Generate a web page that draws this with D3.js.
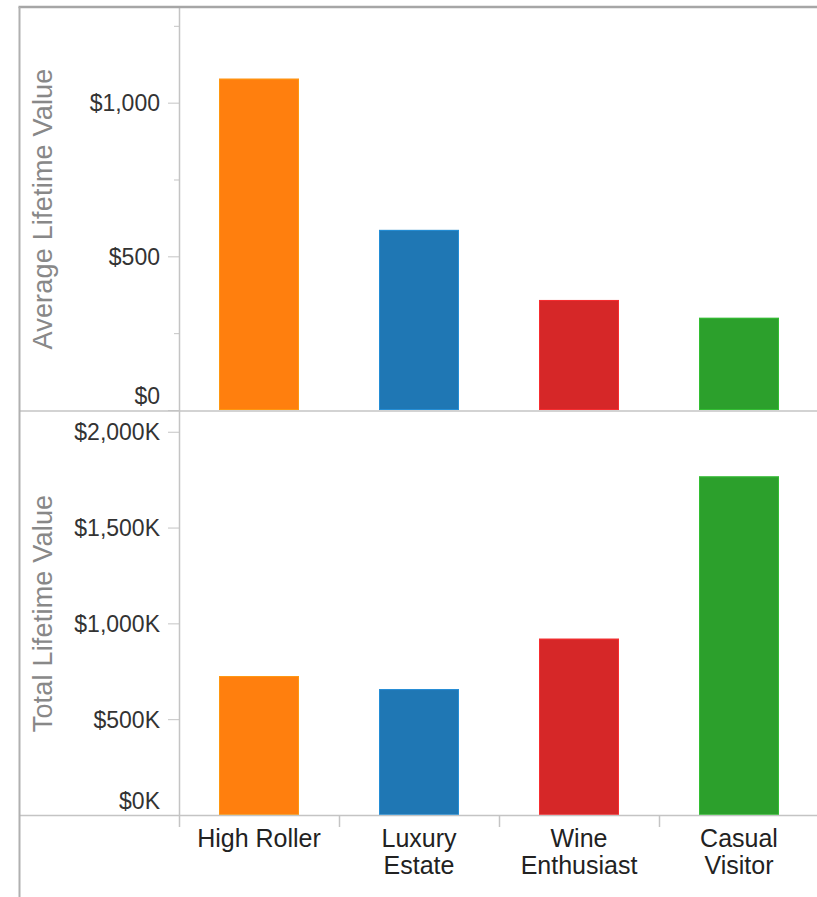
<!DOCTYPE html>
<html>
<head>
<meta charset="utf-8">
<script src="https://cdn.jsdelivr.net/npm/d3@7"></script>
<style>
  html, body { margin: 0; padding: 0; background: #fff; }
  svg { display: block; font-family: "Liberation Sans", Arial, sans-serif; }
</style>
</head>
<body>
<svg id="chart" width="817" height="897"></svg>
<script>
// Customer segments and their values
const categories = ["High Roller", "Luxury Estate", "Wine Enthusiast", "Casual Visitor"];
const categoryLines = [["High Roller"], ["Luxury", "Estate"], ["Wine", "Enthusiast"], ["Casual", "Visitor"]];
const segmentColors = ["#ff7f0e", "#1f77b4", "#d62728", "#2ca02c"];
const avgLifetimeValue = [1078, 586, 358, 300];
const totalLifetimeValue = [725000, 657000, 920000, 1767000];

// Axis ticks
const avgTicks = [0, 500, 1000];
const avgMinorTicks = [250, 750, 1250];
const totalTicks = [0, 500000, 1000000, 1500000, 2000000];

const svg = d3.select("#chart");
const W = 817, H = 897;
const frameLeft = 19.5, frameTop = 7;
const axisX = 179;
const gridColor = "#c4c4c4";

const x = d3.scaleBand()
  .domain(categories)
  .range([axisX, 819])
  .paddingInner(0.5)
  .paddingOuter(0.25);

const panels = [
  {
    title: "Average Lifetime Value",
    values: avgLifetimeValue,
    ticks: avgTicks,
    minor: avgMinorTicks,
    top: 8, bottom: 410,
    max: 1308,
    fmt: d3.format("$,")
  },
  {
    title: "Total Lifetime Value",
    values: totalLifetimeValue,
    ticks: totalTicks,
    minor: [],
    top: 412, bottom: 815,
    max: 2103000,
    fmt: v => d3.format("$,")(v / 1000) + "K"
  }
];

panels.forEach(p => {
  const y = d3.scaleLinear().domain([0, p.max]).range([p.bottom, p.top]);
  const g = svg.append("g");

  // bars
  g.selectAll("rect.bar")
    .data(categories)
    .join("rect")
    .attr("class", "bar")
    .attr("x", d => x(d))
    .attr("width", x.bandwidth())
    .attr("y", (d, i) => y(p.values[i]))
    .attr("height", (d, i) => y(0) - y(p.values[i]))
    .attr("fill", (d, i) => segmentColors[i]);

  // thin lighter edge around each bar
  g.selectAll("rect.edge")
    .data(categories)
    .join("rect")
    .attr("class", "edge")
    .attr("x", d => x(d) + 0.5)
    .attr("width", x.bandwidth() - 1)
    .attr("y", (d, i) => y(p.values[i]) + 0.5)
    .attr("height", (d, i) => y(0) - y(p.values[i]) - 1)
    .attr("fill", "none")
    .attr("stroke", (d, i) => d3.color(segmentColors[i]).brighter(0.6))
    .attr("stroke-width", 1)
    .attr("stroke-opacity", 0.8);

  // major ticks and labels
  const axis = g.append("g")
    .attr("transform", `translate(${axisX},0)`)
    .call(d3.axisLeft(y).tickValues(p.ticks).tickSize(11).tickPadding(8).tickFormat(p.fmt));
  axis.select(".domain").remove();
  axis.selectAll(".tick line").attr("stroke", gridColor);
  axis.selectAll(".tick text")
    .attr("font-size", 23)
    .attr("font-family", "'Liberation Sans', Arial, sans-serif")
    .attr("fill", "#333")
    .attr("dy", null)
    .each(function (d) {
      // labels near the bottom edge of the pane move up to stay inside it
      const pos = y(d);
      const limit = p.bottom - 7 - pos;
      d3.select(this).attr("y", Math.min(8, limit));
    });

  // minor ticks
  if (p.minor.length) {
    const minorAxis = g.append("g")
      .attr("transform", `translate(${axisX},0)`)
      .call(d3.axisLeft(y).tickValues(p.minor).tickSize(5).tickFormat(""));
    minorAxis.select(".domain").remove();
    minorAxis.selectAll(".tick line").attr("stroke", gridColor);
  }

  // axis title
  g.append("text")
    .attr("transform", `translate(52,${(p.top + p.bottom) / 2}) rotate(-90)`)
    .attr("text-anchor", "middle")
    .attr("font-size", 27)
    .attr("letter-spacing", 0.2)
    .attr("fill", "#888")
    .text(p.title);
});

// pane separators and baseline
svg.append("line")
  .attr("x1", frameLeft).attr("x2", W)
  .attr("y1", 411).attr("y2", 411)
  .attr("stroke", gridColor).attr("stroke-width", 1.5);
svg.append("line")
  .attr("x1", frameLeft).attr("x2", W)
  .attr("y1", 815.5).attr("y2", 815.5)
  .attr("stroke", gridColor).attr("stroke-width", 1.5);

// vertical axis rule
svg.append("line")
  .attr("x1", axisX + 0.5).attr("x2", axisX + 0.5)
  .attr("y1", frameTop).attr("y2", 827)
  .attr("stroke", gridColor).attr("stroke-width", 1.5);

// category axis: tick marks between bands, labels centred on bands
const halfGap = (x.step() - x.bandwidth()) / 2;
svg.append("g").selectAll("line")
  .data(categories.slice(1))
  .join("line")
  .attr("x1", d => x(d) - halfGap + 0.5)
  .attr("x2", d => x(d) - halfGap + 0.5)
  .attr("y1", 815).attr("y2", 827)
  .attr("stroke", gridColor).attr("stroke-width", 1.5);

const xAxis = svg.append("g")
  .attr("transform", "translate(0,815)")
  .call(d3.axisBottom(x).tickSize(0).tickPadding(0).tickFormat(""));
xAxis.select(".domain").remove();
xAxis.selectAll(".tick").each(function (d, i) {
  const t = d3.select(this).append("text")
    .attr("text-anchor", "middle")
    .attr("font-size", 25)
    .attr("font-family", "'Liberation Sans', Arial, sans-serif")
    .attr("fill", "#222");
  categoryLines[i].forEach((line, j) => {
    t.append("tspan").attr("x", 0).attr("y", 32 + j * 27).text(line);
  });
});

// outer frame: top and left rules
svg.append("line")
  .attr("x1", frameLeft - 1).attr("x2", W)
  .attr("y1", frameTop).attr("y2", frameTop)
  .attr("stroke", "#a6a6a6").attr("stroke-width", 2.5);
svg.append("line")
  .attr("x1", frameLeft).attr("x2", frameLeft)
  .attr("y1", frameTop).attr("y2", H)
  .attr("stroke", "#b0b0b0").attr("stroke-width", 2);
</script>
</body>
</html>
